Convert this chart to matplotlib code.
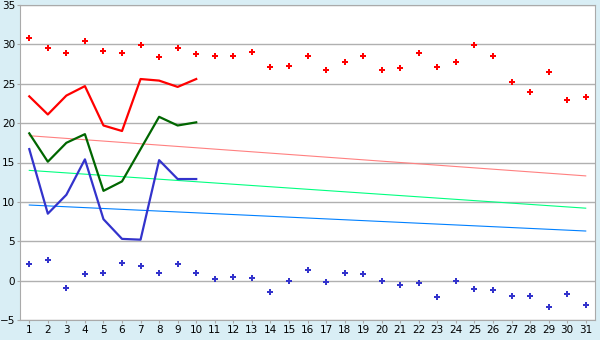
import numpy as np
import matplotlib
matplotlib.use("Agg")
import matplotlib.pyplot as plt

days = list(range(1, 32))

# daily maxima / minima (points)
high_pts = [30.8, 29.5, 28.9, 30.4, 29.1, 28.9, 29.9, 28.4, 29.6, 28.8,
            28.5, 28.5, 29.0, 27.1, 27.3, 28.5, 26.8, 27.7, 28.5, 26.7,
            27.0, 28.9, 27.1, 27.8, 29.9, 28.5, 25.2, 24.0, 26.5, 22.9, 23.3]
low_pts = [2.1, 2.6, -0.9, 0.9, 1.0, 2.3, 1.8, 1.0, 2.1, 1.0,
           0.2, 0.4, 0.3, -1.4, -0.1, 1.3, -0.2, 1.0, 0.9, 0.0,
           -0.5, -0.3, -2.1, 0.0, -1.0, -1.2, -1.9, -2.0, -3.3, -1.7, -3.1]

# first ten days, lines
red_line = [23.4, 21.1, 23.5, 24.7, 19.7, 19.0, 25.6, 25.4, 24.6, 25.6]
green_line = [18.7, 15.1, 17.5, 18.6, 11.4, 12.6, 16.7, 20.8, 19.7, 20.1]
blue_line = [16.7, 8.5, 10.9, 15.4, 7.8, 5.3, 5.2, 15.3, 12.9, 12.9]

# trend lines (start, end)
trend_high = [18.4, 13.3]
trend_mid = [14.0, 9.2]
trend_low = [9.6, 6.3]

bg = "#d9eef5"
fig = plt.figure(figsize=(6, 3.4), dpi=100, facecolor=bg)
ax = fig.add_axes([20 / 600, 20 / 340, 575 / 600, 315 / 340])
ax.set_facecolor("white")

ax.set_xlim(0.5, 31.5)
ax.set_ylim(-5, 35)
ax.set_yticks(range(-5, 36, 5))
ax.set_xticks(days)
ax.grid(axis="y", color="#b0b0b0", linewidth=1)
ax.set_axisbelow(True)
for s in ax.spines.values():
    s.set_color("#aaaaaa")
ax.tick_params(labelsize=7.5, color="#aaaaaa", length=2.5, pad=1)

ends = [days[0], days[-1]]
ax.plot(ends, trend_high, color="#ff8080", lw=0.8)
ax.plot(ends, trend_mid, color="#00ff80", lw=0.8)
ax.plot(ends, trend_low, color="#0080ff", lw=0.8)

ax.plot(days[:10], red_line, color="#ff0000", lw=1.6)
ax.plot(days[:10], green_line, color="#006600", lw=1.6)
ax.plot(days[:10], blue_line, color="#3333cc", lw=1.6)

ax.plot(days, high_pts, "P", color="#ff0000", ms=5, mew=0)
ax.plot(days, low_pts, "P", color="#3333cc", ms=5, mew=0)

fig.savefig("out.png", dpi=100, facecolor=bg)
